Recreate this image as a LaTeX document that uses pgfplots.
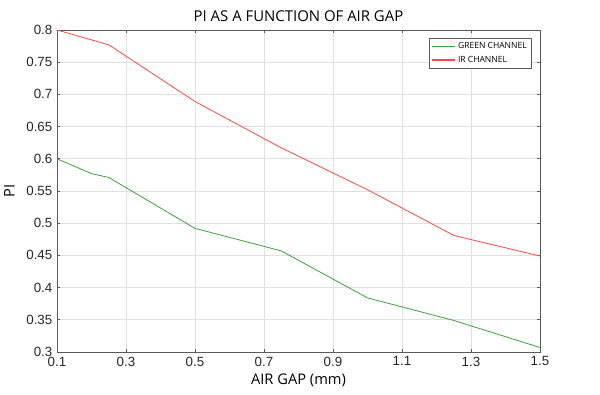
\documentclass[border=0pt]{standalone}
\usepackage{fontspec}
\setmainfont{Open Sans}
\newfontfamily\arialf{Liberation Sans}
\usepackage{pgfplots}
\pgfplotsset{compat=1.18}
\definecolor{gline}{RGB}{60,160,60}
\definecolor{rline}{RGB}{255,70,70}
\definecolor{axc}{RGB}{90,90,90}
\begin{document}
\begin{tikzpicture}[x=1pt,y=1pt]
\useasboundingbox (-42.75,-32.25) rectangle (407.25,264);
\begin{axis}[
  at={(0,0)}, anchor=south west,
  scale only axis,
  width=362.25pt, height=241.5pt,
  xmin=0.1, xmax=1.5, ymin=0.3, ymax=0.8,
  xtick={0.1,0.3,0.5,0.7,0.9,1.1,1.3,1.5},
  xticklabels={0.1,0.3,0.5,0.7,0.9,1.1,1.3,1.5},
  ytick={0.3,0.35,0.4,0.45,0.5,0.55,0.6,0.65,0.7,0.75,0.8},
  yticklabels={0.3,0.35,0.4,0.45,0.5,0.55,0.6,0.65,0.7,0.75,0.8},
  /pgf/number format/assume math mode=true,
  tick label style={font=\arialf\fontsize{10}{12}\selectfont, text=black!85},
  tick align=inside,
  major tick length=2.6pt,
  tick style={axc, line width=0.5pt},
  axis line style={axc, line width=0.6pt},
  grid=major,
  grid style={black!12, line width=0.5pt},
  title={PI AS A FUNCTION OF AIR GAP},
  title style={font=\fontsize{11.2}{13}\selectfont, yshift=-3pt},
  xlabel={AIR GAP (mm)},
  ylabel={PI},
  label style={font=\fontsize{11}{13}\selectfont},
  xlabel style={yshift=1pt},
  ylabel style={yshift=2pt},
  legend style={at={(0.983,0.976)}, anchor=north east, draw=axc, line width=0.5pt,
    font=\fontsize{6.4}{8}\selectfont, row sep=-0.2pt, inner sep=1.5pt,
    cells={anchor=west}},
  legend image post style={line width=0.9pt},
]
\addplot[gline, line width=0.6pt] coordinates {
 (0.1,0.600) (0.2,0.577) (0.25,0.571) (0.5,0.492) (0.75,0.457) (1.0,0.384) (1.25,0.349) (1.5,0.307)};
\addlegendentry{GREEN CHANNEL}
\addplot[rline, line width=0.6pt] coordinates {
 (0.1,0.800) (0.25,0.777) (0.5,0.689) (0.75,0.617) (1.0,0.552) (1.25,0.481) (1.5,0.449)};
\addlegendentry{IR CHANNEL}
\end{axis}
\end{tikzpicture}
\end{document}
